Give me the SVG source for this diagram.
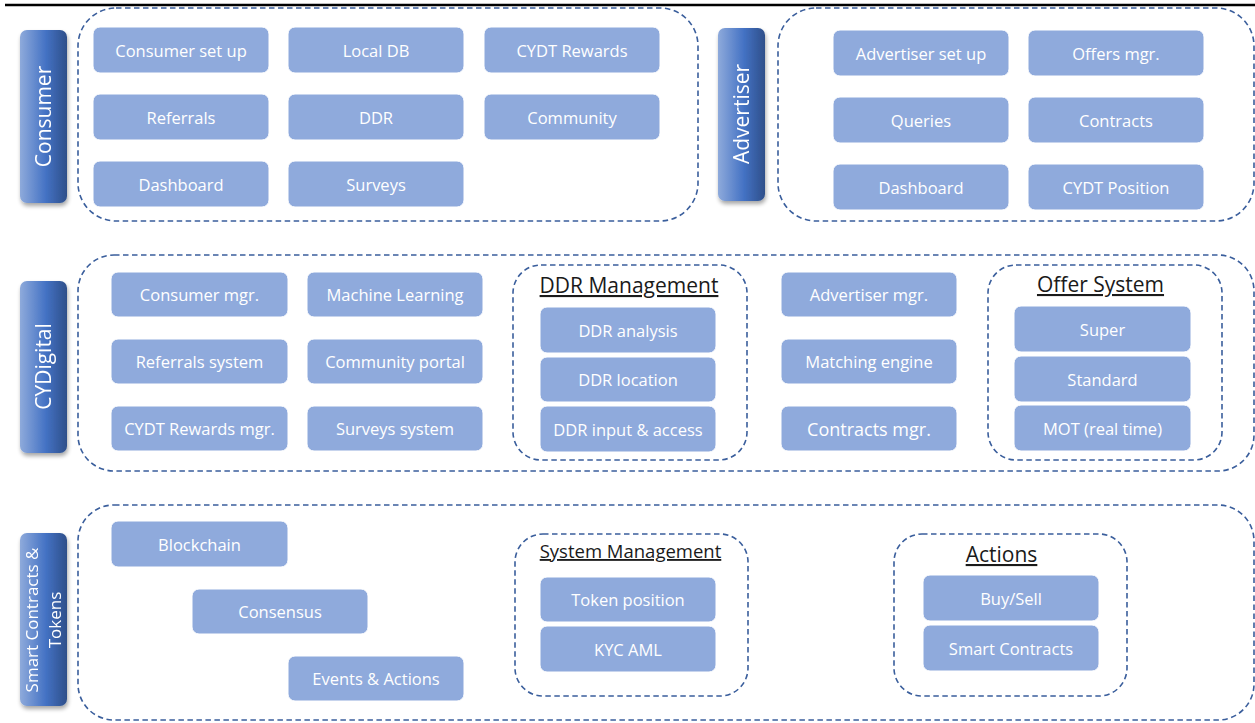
<svg xmlns="http://www.w3.org/2000/svg" width="1255" height="723" viewBox="0 0 1255 723">
<defs>
<linearGradient id="tabg" x1="0" y1="0" x2="1" y2="0">
<stop offset="0" stop-color="#8eaadb"/>
<stop offset="0.55" stop-color="#4472c4"/>
<stop offset="1" stop-color="#2e4f8a"/>
</linearGradient>
<filter id="sh" x="-30%" y="-10%" width="160%" height="130%">
<feGaussianBlur in="SourceAlpha" stdDeviation="2"/>
<feOffset dx="1" dy="3" result="b"/>
<feComponentTransfer><feFuncA type="linear" slope="0.35"/></feComponentTransfer>
<feMerge><feMergeNode/><feMergeNode in="SourceGraphic"/></feMerge>
</filter>
</defs>
<style>
.box{fill:#8faadc;stroke:#ffffff;stroke-width:1}
.bt{font-family:"Open Sans","Noto Sans",sans-serif;font-size:16.5px;fill:#ffffff;text-anchor:middle}
.dash{fill:none;stroke:#3a5e9c;stroke-width:1.6;stroke-dasharray:5.5 3.5}
.tab{fill:url(#tabg)}
.tt{font-family:"Open Sans","Noto Sans",sans-serif;font-size:21px;fill:#ffffff;text-anchor:middle}
.ttl{font-family:"Open Sans","Noto Sans",sans-serif;fill:#1a1a1a;text-anchor:middle;text-decoration:underline}
</style>
<rect x="0" y="0" width="1255" height="723" fill="#ffffff"/>
<line x1="5" y1="5" x2="1255" y2="5" stroke="#000" stroke-width="2.5"/>

<g id="containers">
<rect class="dash" x="78" y="8" width="620" height="213" rx="38"/>
<rect class="dash" x="778" y="8" width="476" height="213" rx="38"/>
<rect class="dash" x="78" y="255" width="1176" height="216" rx="36"/>
<rect class="dash" x="78" y="505" width="1176" height="215" rx="36"/>
<rect class="dash" x="513" y="265" width="234" height="195" rx="28"/>
<rect class="dash" x="988" y="265" width="234" height="195" rx="28"/>
<rect class="dash" x="515" y="534" width="233" height="162" rx="28"/>
<rect class="dash" x="894" y="534" width="233" height="162" rx="28"/>
</g>

<g id="tabs">
<g id="tab-consumer" filter="url(#sh)"><rect class="tab" x="20" y="30" width="47" height="173" rx="7"/>
<text class="tt" transform="translate(43.5,116.5) rotate(-90)" y="7.5">Consumer</text></g>
<g id="tab-advertiser" filter="url(#sh)"><rect class="tab" x="718" y="28" width="47" height="173" rx="7"/>
<text class="tt" transform="translate(741.5,114) rotate(-90)" y="7.5">Advertiser</text></g>
<g id="tab-cydigital" filter="url(#sh)"><rect class="tab" x="20" y="281" width="47" height="172" rx="7"/>
<text class="tt" transform="translate(43.5,366.5) rotate(-90)" y="7.5">CYDigital</text></g>
<g id="tab-smart" filter="url(#sh)"><rect class="tab" x="20" y="533" width="47" height="173" rx="7"/>
<text class="tt" style="font-size:17px" transform="translate(43.5,620) rotate(-90)"><tspan x="0" y="-5.5">Smart Contracts &amp;</tspan><tspan x="0" y="17.5">Tokens</tspan></text></g>
</g>

<g id="titles">
<text class="ttl" x="629" y="293" style="font-size:21px">DDR Management</text>
<text class="ttl" x="1100.5" y="292" style="font-size:21px">Offer System</text>
<text class="ttl" x="630.5" y="558" style="font-size:18.5px">System Management</text>
<text class="ttl" x="1001.5" y="562" style="font-size:21px">Actions</text>
</g>

<g id="consumer-nodes">
<g id="n-consumer-setup"><rect class="box" x="93" y="27" width="176" height="46" rx="7"/><text class="bt" x="181" y="56.5">Consumer set up</text></g>
<g id="n-localdb"><rect class="box" x="288" y="27" width="176" height="46" rx="7"/><text class="bt" x="376" y="56.5">Local DB</text></g>
<g id="n-cydt-rewards"><rect class="box" x="484" y="27" width="176" height="46" rx="7"/><text class="bt" x="572" y="56.5">CYDT Rewards</text></g>
<g id="n-referrals"><rect class="box" x="93" y="94" width="176" height="46" rx="7"/><text class="bt" x="181" y="123.5">Referrals</text></g>
<g id="n-ddr"><rect class="box" x="288" y="94" width="176" height="46" rx="7"/><text class="bt" x="376" y="123.5">DDR</text></g>
<g id="n-community"><rect class="box" x="484" y="94" width="176" height="46" rx="7"/><text class="bt" x="572" y="123.5">Community</text></g>
<g id="n-dashboard-c"><rect class="box" x="93" y="161" width="176" height="46" rx="7"/><text class="bt" x="181" y="190.5">Dashboard</text></g>
<g id="n-surveys"><rect class="box" x="288" y="161" width="176" height="46" rx="7"/><text class="bt" x="376" y="190.5">Surveys</text></g>
</g>

<g id="advertiser-nodes">
<g id="n-adv-setup"><rect class="box" x="833" y="30" width="176" height="46" rx="7"/><text class="bt" x="921" y="59.5">Advertiser set up</text></g>
<g id="n-offers"><rect class="box" x="1028" y="30" width="176" height="46" rx="7"/><text class="bt" x="1116" y="59.5">Offers mgr.</text></g>
<g id="n-queries"><rect class="box" x="833" y="97" width="176" height="46" rx="7"/><text class="bt" x="921" y="126.5">Queries</text></g>
<g id="n-contracts"><rect class="box" x="1028" y="97" width="176" height="46" rx="7"/><text class="bt" x="1116" y="126.5">Contracts</text></g>
<g id="n-dashboard-a"><rect class="box" x="833" y="164" width="176" height="46" rx="7"/><text class="bt" x="921" y="193.5">Dashboard</text></g>
<g id="n-cydt-pos"><rect class="box" x="1028" y="164" width="176" height="46" rx="7"/><text class="bt" x="1116" y="193.5">CYDT Position</text></g>
</g>

<g id="cydigital-nodes">
<g id="n-consumer-mgr"><rect class="box" x="111" y="272" width="177" height="45" rx="7"/><text class="bt" x="199.5" y="301">Consumer mgr.</text></g>
<g id="n-ml"><rect class="box" x="307" y="272" width="176" height="45" rx="7"/><text class="bt" x="395" y="301">Machine Learning</text></g>
<g id="n-ref-sys"><rect class="box" x="111" y="339" width="177" height="45" rx="7"/><text class="bt" x="199.5" y="368">Referrals system</text></g>
<g id="n-comm-portal"><rect class="box" x="307" y="339" width="176" height="45" rx="7"/><text class="bt" x="395" y="368">Community portal</text></g>
<g id="n-cydt-mgr"><rect class="box" x="111" y="406" width="177" height="45" rx="7"/><text class="bt" x="199.5" y="435">CYDT Rewards mgr.</text></g>
<g id="n-surveys-sys"><rect class="box" x="307" y="406" width="176" height="45" rx="7"/><text class="bt" x="395" y="435">Surveys system</text></g>
<g id="n-ddr-analysis"><rect class="box" x="540" y="307" width="176" height="46" rx="7"/><text class="bt" x="628" y="336.5">DDR analysis</text></g>
<g id="n-ddr-location"><rect class="box" x="540" y="357" width="176" height="45" rx="7"/><text class="bt" x="628" y="386">DDR location</text></g>
<g id="n-ddr-input"><rect class="box" x="540" y="406" width="176" height="46" rx="7"/><text class="bt" x="628" y="435.5">DDR input &amp; access</text></g>
<g id="n-adv-mgr"><rect class="box" x="781" y="272" width="176" height="45" rx="7"/><text class="bt" x="869" y="301">Advertiser mgr.</text></g>
<g id="n-matching"><rect class="box" x="781" y="339" width="176" height="45" rx="7"/><text class="bt" x="869" y="368">Matching engine</text></g>
<g id="n-contracts-mgr"><rect class="box" x="781" y="406" width="176" height="45" rx="7"/><text class="bt" x="869" y="435.5" style="font-size:18px">Contracts mgr.</text></g>
<g id="n-super"><rect class="box" x="1014" y="306" width="177" height="46" rx="7"/><text class="bt" x="1102.5" y="335.5">Super</text></g>
<g id="n-standard"><rect class="box" x="1014" y="356" width="177" height="46" rx="7"/><text class="bt" x="1102.5" y="385.5">Standard</text></g>
<g id="n-mot"><rect class="box" x="1014" y="405" width="177" height="46" rx="7"/><text class="bt" x="1102.5" y="434.5">MOT (real time)</text></g>
</g>

<g id="smart-nodes">
<g id="n-blockchain"><rect class="box" x="111" y="521" width="177" height="46" rx="7"/><text class="bt" x="199.5" y="550.5">Blockchain</text></g>
<g id="n-consensus"><rect class="box" x="192" y="589" width="176" height="45" rx="7"/><text class="bt" x="280" y="618">Consensus</text></g>
<g id="n-events"><rect class="box" x="288" y="656" width="176" height="45" rx="7"/><text class="bt" x="376" y="685">Events &amp; Actions</text></g>
<g id="n-token-pos"><rect class="box" x="540" y="577" width="176" height="45" rx="7"/><text class="bt" x="628" y="606">Token position</text></g>
<g id="n-kyc"><rect class="box" x="540" y="626" width="176" height="46" rx="7"/><text class="bt" x="628" y="655.5">KYC AML</text></g>
<g id="n-buysell"><rect class="box" x="923" y="575" width="176" height="46" rx="7"/><text class="bt" x="1011" y="604.5">Buy/Sell</text></g>
<g id="n-smart-contracts"><rect class="box" x="923" y="625" width="176" height="46" rx="7"/><text class="bt" x="1011" y="654.5">Smart Contracts</text></g>
</g>

<g id="connectors"></g>
</svg>
